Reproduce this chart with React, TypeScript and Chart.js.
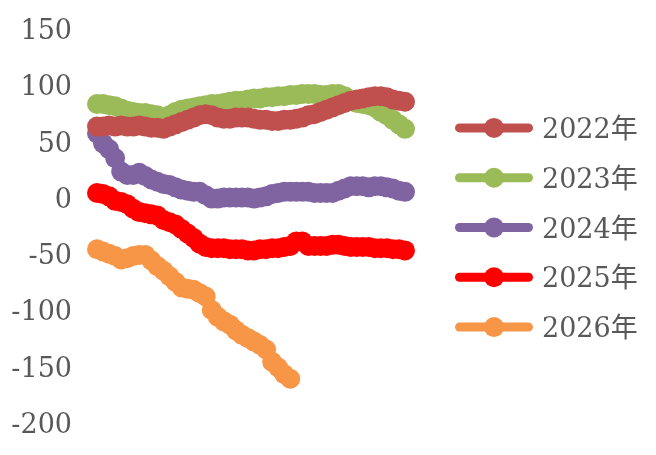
import React, { useEffect, useRef } from "react";
import { Chart, registerables } from "chart.js";

Chart.register(...registerables);

const weeks = [
  "1", "2", "3", "4", "5", "6", "7", "8", "9", "10",
  "11", "12", "13", "14", "15", "16", "17", "18", "19", "20",
  "21", "22", "23", "24", "25", "26", "27", "28", "29", "30",
  "31", "32", "33", "34", "35", "36", "37", "38", "39", "40",
  "41", "42", "43", "44", "45", "46", "47", "48", "49", "50",
  "51", "52",
];

const seriesNames = ["2022年", "2023年", "2024年", "2025年", "2026年"];
const seriesColors = ["#C0504D", "#9BBB59", "#8064A2", "#FF0000", "#F79646"];

const y2022 = [
  66, 66, 67, 66, 67, 66, 66, 67, 66, 65,
  65, 64, 66, 68, 70, 72, 74, 76, 77, 76,
  74, 73, 73, 74, 74, 74, 73, 72, 72, 71,
  71, 72, 72, 73, 74, 76, 77, 79, 81, 83,
  85, 87, 89, 90, 91, 92, 93, 93, 92, 90,
  89, 88,
];

const y2023 = [
  86, 86, 85, 84, 82, 80, 79, 78, 78, 77,
  76, 74, 76, 79, 81, 82, 83, 84, 85, 86,
  86, 87, 88, 89, 89, 90, 91, 91, 92, 92,
  93, 93, 94, 94, 95, 95, 95, 94, 94, 95,
  95, 93, 89, 87, 86, 85, 83, 79, 76, 72,
  68, 64,
];

const y2024 = [
  60, 51, 46, 38, 26, 23, 23, 25, 22, 19,
  17, 15, 14, 12, 10, 9, 8, 8, 5, 2,
  2, 3, 3, 3, 3, 3, 2, 3, 4, 6,
  7, 8, 8, 8, 8, 8, 7, 7, 7, 7,
  9, 11, 13, 13, 13, 12, 13, 13, 12, 11,
  9, 8,
];

const y2025 = [
  7, 6, 4, 0, -1, -3, -7, -10, -11, -12,
  -13, -17, -19, -21, -25, -29, -33, -38, -41, -42,
  -42, -42, -43, -43, -43, -44, -44, -43, -43, -42,
  -42, -41, -40, -36, -36, -40, -40, -40, -40, -39,
  -39, -40, -41, -41, -41, -41, -42, -42, -42, -43,
  -43, -44,
];

const y2026 = [
  -43, -45, -47, -49, -52, -51, -49, -48, -48, -53,
  -58, -62, -67, -72, -77, -78, -79, -82, -85, -97,
  -103, -107, -110, -115, -119, -122, -125, -128, -132, -143,
  -148, -154, -158,
];

const allSeries = [y2022, y2023, y2024, y2025, y2026];

const TEXT_COLOR = "#595959";
const FONT_FAMILY = "'DejaVu Serif', 'Noto Sans CJK SC', serif";
const FONT_SIZE = 27;

const lineLegendPlugin = {
  id: "lineLegend",
  afterDraw(chart: any) {
    const ctx: CanvasRenderingContext2D = chart.ctx;
    const { right, top, bottom } = chart.chartArea;
    const midY = (top + bottom) / 2 - 1.5;
    const x0 = right + 50;
    ctx.save();
    chart.data.datasets.forEach((ds: any, i: number) => {
      const cy = midY + (i - 2) * 49.8;
      const color = ds.borderColor as string;
      ctx.strokeStyle = color;
      ctx.fillStyle = color;
      ctx.lineWidth = 9;
      ctx.lineCap = "round";
      ctx.beginPath();
      ctx.moveTo(x0 + 4.5, cy);
      ctx.lineTo(x0 + 73.5, cy);
      ctx.stroke();
      ctx.beginPath();
      ctx.arc(x0 + 39, cy, 10, 0, Math.PI * 2);
      ctx.fill();
      ctx.fillStyle = TEXT_COLOR;
      ctx.font = `${FONT_SIZE}px ${FONT_FAMILY}`;
      ctx.textAlign = "left";
      ctx.textBaseline = "alphabetic";
      ctx.fillText(ds.label, x0 + 87, cy + 10);
    });
    ctx.restore();
  },
};

export default function App() {
  const canvasRef = useRef<HTMLCanvasElement | null>(null);

  useEffect(() => {
    if (!canvasRef.current) return;
    const chart = new Chart(canvasRef.current, {
      type: "line",
      data: {
        labels: weeks,
        datasets: allSeries.map((vals, i) => ({
          label: seriesNames[i],
          data: vals,
          borderColor: seriesColors[i],
          backgroundColor: seriesColors[i],
          pointBackgroundColor: seriesColors[i],
          pointBorderColor: seriesColors[i],
          pointBorderWidth: 0,
          pointRadius: 10,
          borderWidth: 9,
          tension: 0,
          fill: false,
          clip: false as any,
        })),
      },
      options: {
        responsive: false,
        animation: false,
        layout: { padding: { top: 32, bottom: 29, left: 0, right: 251 } },
        plugins: {
          tooltip: { enabled: false },
          legend: { display: false },
        },
        scales: {
          x: {
            type: "category",
            display: false,
            offset: false,
          },
          y: {
            position: "left",
            min: -200,
            max: 150,
            grid: { display: false, drawTicks: false },
            border: { display: false },
            ticks: {
              stepSize: 50,
              padding: 25,
              color: TEXT_COLOR,
              font: { family: FONT_FAMILY, size: FONT_SIZE },
            },
            afterFit: (s: any) => {
              s.width = 97;
              s.paddingTop = 0;
              s.paddingBottom = 0;
            },
          },
        },
      },
      plugins: [lineLegendPlugin],
    });
    return () => chart.destroy();
  }, []);

  return (
    <div style={{ position: "absolute", left: 0, top: 0, width: 656, height: 455 }}>
      <canvas ref={canvasRef} width={656} height={455} style={{ display: "block" }} />
    </div>
  );
}
